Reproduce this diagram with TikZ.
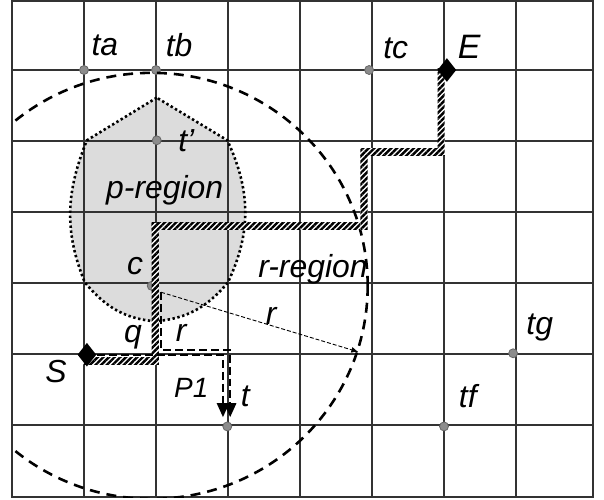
\documentclass[tikz,border=0pt]{standalone}
\usepackage{fontspec}
\setmainfont{Liberation Sans}
\usepackage{tikz}
\usetikzlibrary{arrows.meta,calc,shapes.geometric,patterns.meta}
\definecolor{gridgray}{HTML}{333333}
\definecolor{dotgray}{HTML}{8C8C8C}
\definecolor{regiongray}{HTML}{DCDCDC}

\begin{document}
\begin{tikzpicture}[>=Latex,x=1.27cm,y=1.2524cm,
 lbl/.style={font=\fontsize{16}{18}\selectfont\itshape,inner sep=0pt},
 pt/.style={circle,fill=dotgray,draw=black!60,line width=.4pt,inner sep=0pt,minimum size=4.5pt},
 endpt/.style={diamond,fill=black,inner sep=0pt,minimum width=9.5pt,minimum height=12pt},
 hatch/.style={preaction={fill=white},pattern={Lines[angle=45,distance=2pt,line width=1.2pt]}},
 p1/.style={dash pattern=on 4pt off 2pt,line width=1.1pt,-{Triangle[width=6pt,length=7pt]}},
 rline/.style={dash pattern=on 2pt off 1pt,line width=.45pt,-{Latex[length=3.5pt,width=3pt]}},
 region/.style={line width=1.3pt,dash pattern=on 1.2pt off 1.3pt}]
\useasboundingbox (-0.167,-0.056) rectangle (8.222,6.986);
% p-region
\fill[regiongray] (2.01,5.61) -- (1.04,5.01) to[out=-112,in=112] (1.01,3.01)
  to[out=-50,in=175] (1.99,2.46) to[out=5,in=-130] (3.0,3.01)
  to[out=65,in=-65] (2.99,5.01) -- cycle;
% grid
\foreach \x in {1,...,7}{\draw[gridgray,line width=.7pt] (\x,-0.014)--(\x,6.97);}
\foreach \y in {1,...,6}{\draw[gridgray,line width=.7pt] (0,\y)--(8.07,\y);}
\draw[gridgray,line width=1.2pt] (0,-0.014) rectangle (8.07,6.97);
\draw[region] (2.01,5.61) -- (1.04,5.01) to[out=-112,in=112] (1.01,3.01)
  to[out=-50,in=175] (1.99,2.46) to[out=5,in=-130] (3.0,3.01)
  to[out=65,in=-65] (2.99,5.01) -- cycle;
% points
\node[pt] (ta) at (1,6){};
\node[pt] (tb) at (2,6){};
\node[pt] (tc) at (4.96,6){};
\node[pt] (tp) at (2.01,5.01){};
\node[pt] (c) at (1.94,2.96){};
\node[pt] (t) at (2.99,0.98){};
\node[pt] (tf) at (6,0.98){};
\node[pt] (tg) at (6.96,2.01){};
% r-region
\begin{scope}
\clip (0,-0.014) rectangle (8.07,6.97);
\draw[line width=1.3pt,dash pattern=on 5pt off 3.5pt] (c) circle (3);
\end{scope}
% path S to E
\coordinate (h0) at (1.04,1.90);
\coordinate (h1) at (1.99,1.90);
\coordinate (h2) at (1.99,3.80);
\coordinate (h3) at (4.89,3.80);
\coordinate (h4) at (4.89,4.85);
\coordinate (h5) at (5.96,4.85);
\coordinate (h6) at (5.96,5.97);
\foreach \p/\q in {h0/h1,h1/h2,h2/h3,h3/h4,h4/h5,h5/h6}
 {\fill[hatch] ($(\p)+(-.05,-.05)$) rectangle ($(\q)+(.05,.05)$);}
\node[endpt] (S) at (1.04,1.99){};
\node[endpt] (E) at (6.04,6.0){};
% P1
\coordinate (c1) at (2.07,2.87);
\coordinate (b1) at (3.03,2.06);
\coordinate (a1) at (2.93,1.11);
\coordinate (a2) at (3.03,1.11);
\coordinate (rend) at (4.81,2.03);
\draw[p1] (S) -| (a1);
\draw[p1] (c1) |- (b1) -- (a2);
\draw[rline] (c1) -- (rend);
% labels
\node[lbl] (ta-l) at (1.29,6.35){ta};
\node[lbl] (tb-l) at (2.32,6.35){tb};
\node[lbl] (tc-l) at (5.33,6.31){tc};
\node[lbl,font=\fontsize{17}{19}\selectfont\itshape] (E-l) at (6.35,6.32){E};
\node[lbl] (tp-l) at (2.42,5.0){t'};
\node[lbl] (preg) at (2.12,4.30){p-region};
\node[lbl] (rreg) at (4.18,3.20){r-region};
\node[lbl] (c-l) at (1.71,3.24){c};
\node[lbl] (r-l) at (3.60,2.54){r};
\node[lbl] (q-l) at (1.68,2.23){q};
\node[lbl] (r2-l) at (2.35,2.30){r};
\node[lbl,font=\fontsize{14}{16}\selectfont\itshape] (P1-l) at (2.49,1.52){P1};
\node[lbl] (t-l) at (3.24,1.41){t};
\node[lbl] (S-l) at (0.61,1.75){S};
\node[lbl] (tf-l) at (6.33,1.41){tf};
\node[lbl] (tg-l) at (7.33,2.37){tg};
\end{tikzpicture}
\end{document}
